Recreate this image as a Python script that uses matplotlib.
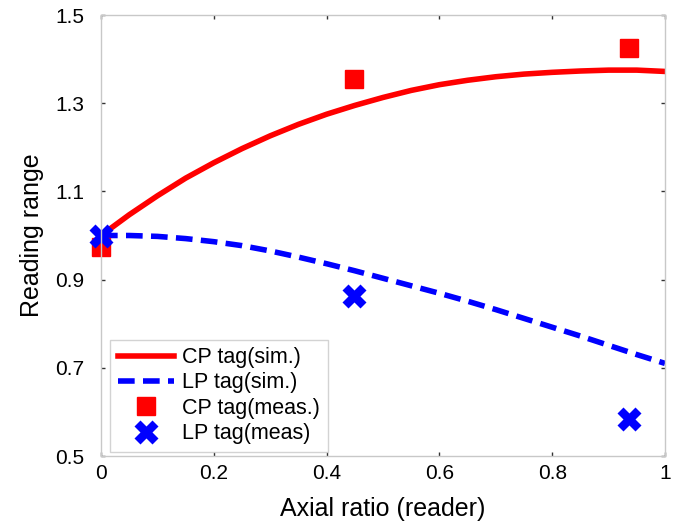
import matplotlib.pyplot as plt

plt.rcParams["font.family"] = ["Liberation Sans", "DejaVu Sans"]

# Simulated curves
x_sim = [0.0, 0.05, 0.1, 0.15, 0.2, 0.25, 0.3, 0.35, 0.4, 0.45, 0.5,
         0.55, 0.6, 0.65, 0.7, 0.75, 0.8, 0.85, 0.9, 0.95, 1.0]
cp_sim = [1.0, 1.047, 1.09, 1.13, 1.165, 1.197, 1.226, 1.252, 1.275, 1.295, 1.313,
          1.329, 1.342, 1.352, 1.36, 1.366, 1.37, 1.373, 1.375, 1.375, 1.372]
lp_sim = [1.0, 1.0, 0.998, 0.993, 0.986, 0.977, 0.965, 0.951, 0.936, 0.92, 0.903,
          0.886, 0.869, 0.851, 0.832, 0.812, 0.792, 0.772, 0.751, 0.73, 0.71]

# Measurements
x_meas = [0.0, 0.449, 0.936]
cp_meas = [0.974, 1.355, 1.425]
lp_meas = [0.999, 0.863, 0.584]

fig = plt.figure(figsize=(6.82, 5.23), dpi=100)
ax = fig.add_axes([101 / 682, 1 - 456 / 523, 564 / 682, 441 / 523])

ax.plot(x_sim, cp_sim, color="#ff0000", lw=4, label="CP tag(sim.)")
ax.plot(x_sim, lp_sim, color="#0000ff", lw=4, ls=(0, (3, 1.5)), label="LP tag(sim.)")
ax.plot(x_meas, cp_meas, ls="none", marker="s", ms=13, color="#ff0000",
        label="CP tag(meas.)", clip_on=False)
ax.plot(x_meas, lp_meas, ls="none", marker="X", ms=17, color="#0000ff",
        mec="none", label="LP tag(meas)", clip_on=False)

ax.set_xlim(0, 1)
ax.set_ylim(0.5, 1.5)
ax.set_xticks([0, 0.2, 0.4, 0.6, 0.8, 1.0])
ax.set_xticklabels(["0", "0.2", "0.4", "0.6", "0.8", "1"])
ax.set_yticks([0.5, 0.7, 0.9, 1.1, 1.3, 1.5])
ax.set_yticklabels(["0.5", "0.7", "0.9", "1.1", "1.3", "1.5"])
ax.tick_params(direction="in", length=3, width=1, labelsize=15,
               top=True, right=True, color="#333333")
ax.tick_params(axis="x", pad=6)
ax.tick_params(axis="y", pad=12)
for s in ax.spines.values():
    s.set_color("#c8c8c8")
    s.set_linewidth(1)

ax.set_xlabel("Axial ratio (reader)", fontsize=18, labelpad=10)
ax.set_ylabel("Reading range", fontsize=18, labelpad=8)

leg = ax.legend(loc="lower left", bbox_to_anchor=(0.016, 0.01), fontsize=15.5,
                frameon=True, fancybox=False, handlelength=2.6, handletextpad=0.4,
                labelspacing=0.2, borderpad=0.35, borderaxespad=0)
leg.get_frame().set_edgecolor("#c8c8c8")
leg.get_frame().set_linewidth(1)

fig.savefig("out.png", dpi=100)
